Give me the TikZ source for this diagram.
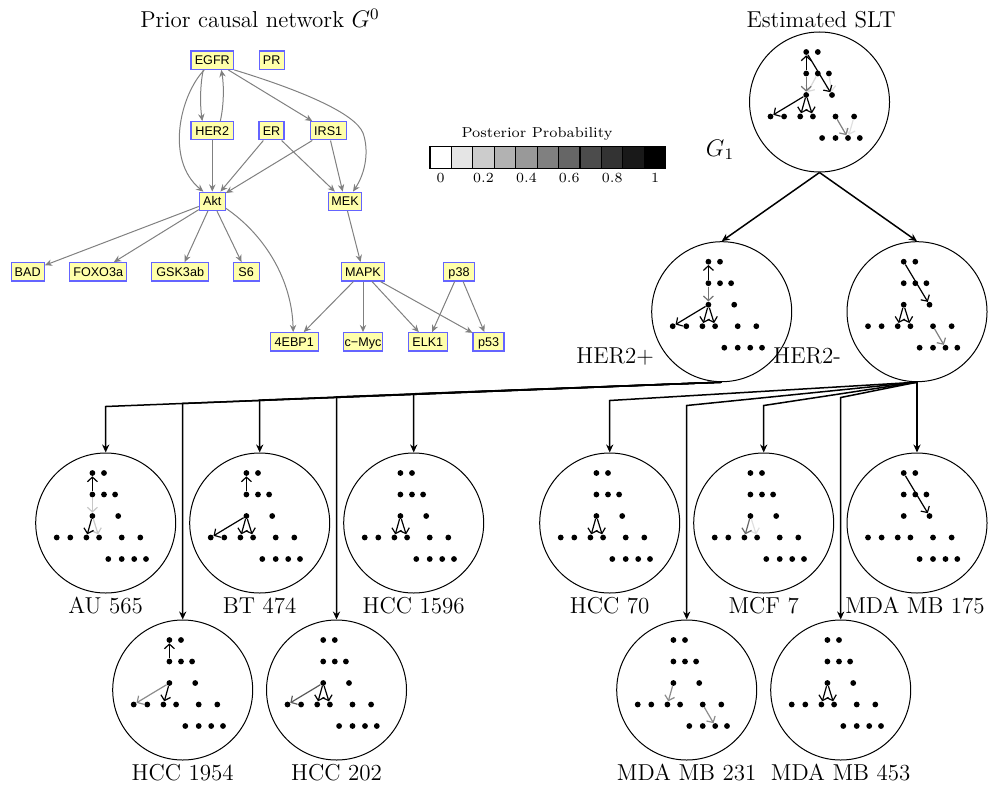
\documentclass[tikz,border=0pt]{standalone}
\usepackage{fontspec}
\newfontfamily\netfont{Liberation Sans}
\usetikzlibrary{arrows.meta,calc}

\definecolor{netfill}{RGB}{255,255,170}
\definecolor{netline}{RGB}{100,100,255}
\definecolor{netedge}{RGB}{128,128,128}

% positions of the 17 proteins inside an SLT circle, relative to its centre
\def\dotlayout{EGFR/-13.3/-50, PR/-1.7/-50, HER2/-13.3/-28.5, ER/-1.7/-28.5,
  IRS1/9.4/-28.5, Akt/-13.3/-7, MEK/12.5/-7, BAD/-49/14.5, FOXO3a/-35.4/14.5,
  GSK3ab/-19.3/14.5, S6/-6.6/14.5, MAPK/16/14.5, p38/34.6/14.5, 4EBP1/2.6/36,
  cMyc/16/36, ELK1/28.5/36, p53/40.3/36}

% one SLT circle with its dots
\newcommand\sltring[3]{%
  \node[sltcircle] (#1) at (#2,#3) {};
  \foreach \n/\dx/\dy in \dotlayout {\node[sdot] (#1-\n) at ($(#1.center)+(\dx,\dy)$) {};}%
}
% edge inside a circle, shaded by its posterior probability
\newcommand\sarr[4]{\draw[sarrow,draw=black!#4] (#1-#2) -- (#1-#3);}
% protein box of the prior network
\newcommand\gn[5]{\node[gbox,minimum width=#4pt] (#1) at (#2,#3) {#5};}

\begin{document}
\begin{tikzpicture}[x=0.5pt,y=-0.5pt,
  font=\fontsize{11.5}{13}\selectfont,
  gbox/.style={draw=netline, fill=netfill, line width=0.55pt, minimum height=9.15pt,
    inner xsep=0.5pt, inner ysep=0pt, text height=4.5pt, text depth=0pt,
    font=\netfont\fontsize{6.3}{7}\selectfont},
  gedge/.style={draw=netedge, line width=0.5pt, -{Stealth[length=3.6pt,width=3.2pt]}},
  sltcircle/.style={circle, draw, line width=0.5pt, minimum size=70pt, inner sep=0pt},
  sdot/.style={circle, fill=black, inner sep=0pt, minimum size=2.9pt},
  sarrow/.style={line width=0.6pt, -{Straight Barb[length=2.3pt,width=5pt]}},
  tree/.style={line width=0.75pt, -{Stealth[length=4pt,width=3.6pt]}},
  lab/.style={anchor=base},
  legtext/.style={anchor=base, font=\fontsize{7.2}{8}\selectfont}]
\useasboundingbox (0,0) rectangle (988,786);

% ---------------- prior causal network ----------------
\node[lab] (tprior) at (260,28) {Prior causal network $G^0$};
\gn{EGFR}{212.3}{60.2}{21.35}{EGFR}
\gn{PR}{271.7}{60.2}{12.65}{PR}
\gn{HER2}{212.3}{130.8}{21.35}{HER2}
\gn{ER}{271.5}{130.8}{12.5}{ER}
\gn{IRS1}{328.2}{130.8}{18.15}{IRS1}
\gn{Akt}{212.3}{201.3}{13}{Akt}
\gn{MEK}{345}{201.3}{16.65}{MEK}
\gn{BAD}{27.7}{271.8}{16.65}{BAD}
\gn{FOXO3a}{98.2}{271.8}{28.5}{FOXO3a}
\gn{GSK3ab}{180.2}{271.8}{28.5}{GSK3ab}
\gn{S6}{246.2}{271.8}{12.85}{S6}
\gn{MAPK}{363}{271.8}{21.35}{MAPK}
\gn{p38}{459}{271.8}{15.65}{p38}
\gn{4EBP1}{294.2}{341.8}{24.15}{4EBP1}
\gn{cMyc}{363}{341.8}{19.65}{c−Myc}
\gn{ELK1}{427.8}{341.8}{19.5}{ELK1}
\gn{p53}{488.5}{341.8}{15.5}{p53}

\draw[gedge] ($(EGFR.south)+(-9,0)$) .. controls (200,85) and (200,105) .. ($(HER2.north)+(-10,0)$);
\draw[gedge] ($(HER2.north)+(8,0)$) .. controls (224,105) and (224,85) .. ($(EGFR.south)+(9,0)$);
\draw[gedge] ($(EGFR.south)+(-8,0)$) .. controls (180,95) and (165,160) .. ($(Akt.north)+(-9,0)$);
\draw[gedge] (EGFR) -- (IRS1);
\draw[gedge] (EGFR.south east) .. controls (300,90) and (355,113) .. (363,133)
  .. controls (369,150) and (366,172) .. ($(MEK.north)+(8,0)$);
\draw[gedge] (HER2) -- (Akt);
\draw[gedge] (ER) -- (Akt);
\draw[gedge] (ER) -- (MEK);
\draw[gedge] (IRS1) -- (Akt);
\draw[gedge] (IRS1) -- (MEK);
\draw[gedge] (Akt) -- (BAD);
\draw[gedge] (Akt) -- (FOXO3a);
\draw[gedge] (Akt) -- (GSK3ab);
\draw[gedge] (Akt) -- (S6);
\draw[gedge] ($(Akt.east)+(0,7)$) .. controls (265,235) and (292,280) .. ($(4EBP1.north)+(-1,0)$);
\draw[gedge] (MEK) -- (MAPK);
\draw[gedge] (MAPK) -- (4EBP1);
\draw[gedge] (MAPK) -- (cMyc);
\draw[gedge] (MAPK) -- (ELK1);
\draw[gedge] (MAPK) -- (p53);
\draw[gedge] (p38) -- (ELK1);
\draw[gedge] (p38) -- (p53);

% ---------------- posterior probability scale ----------------
\node[legtext] (ltitle) at (537,138) {Posterior Probability};
\foreach \i in {0,...,10} {
  \pgfmathsetmacro\shade{10*\i}
  \draw[line width=0.6pt, fill=black!\shade] (430+21.43*\i,146.7) rectangle ++(21.43,21.6);
}
\foreach \i/\t in {0/0, 2/0.2, 4/0.4, 6/0.6, 8/0.8, 10/1}
  \node[legtext] (tick\i) at (440.7+21.43*\i,183) {$\t$};

% ---------------- estimated SLT ----------------
\node[lab] (tslt) at (821,28) {Estimated SLT};
\node (gone) at (720,150) {$G_1$};

\sltring{root}{819.5}{102}
\sltring{hp}{721.7}{311.7}
\sltring{hm}{917}{311.7}
\sltring{au}{105.7}{523}
\sltring{bt}{259.7}{523}
\sltring{hcca}{413.7}{523}
\sltring{hccb}{182.7}{690}
\sltring{hccc}{336.5}{690}
\sltring{hccd}{609.7}{523}
\sltring{mcf}{763.7}{523}
\sltring{mdaa}{917}{523}
\sltring{mdab}{686.7}{690}
\sltring{mdac}{840.7}{690}

\node[lab, anchor=base east] (lhp) at (661,363) {HER2+};
\node[lab, anchor=base east] (lhm) at (848,363) {HER2-};
\node[lab] (lau) at (105.7,613) {AU 565};
\node[lab] (lbt) at (259.7,613) {BT 474};
\node[lab] (lhcca) at (413.7,613) {HCC 1596};
\node[lab] (lhccb) at (182.7,780) {HCC 1954};
\node[lab] (lhccc) at (336.5,780) {HCC 202};
\node[lab] (lhccd) at (609.7,613) {HCC 70};
\node[lab] (lmcf) at (763.7,613) {MCF 7};
\node[lab] (lmdaa) at (915,613) {MDA MB 175};
\node[lab] (lmdab) at (686.7,780) {MDA MB 231};
\node[lab] (lmdac) at (840.7,780) {MDA MB 453};

% tree connectors
\draw[tree] (root.south) -- (hp.north);
\draw[tree] (root.south) -- (hm.north);
\foreach \c/\b in {au/46, hccb/216, bt/52.4, hccc/222.6, hcca/58.7}
  \draw[tree] (hp.south) -- ($(\c.north)+(0,-\b)$) -- (\c.north);
\foreach \c/\b in {hccd/52, mdab/214, mcf/47, mdac/222}
  \draw[tree] (hm.south) -- ($(\c.north)+(0,-\b)$) -- (\c.north);
\draw[tree] (hm.south) -- (mdaa.north);

% edges inside the circles
\sarr{root}{ER}{Akt}{15}
\sarr{root}{IRS1}{MEK}{12}
\sarr{root}{p38}{ELK1}{12}
\sarr{root}{MAPK}{ELK1}{50}
\sarr{root}{HER2}{Akt}{55}
\sarr{root}{HER2}{EGFR}{100}
\sarr{root}{EGFR}{MEK}{100}
\sarr{root}{Akt}{BAD}{100}
\sarr{root}{Akt}{GSK3ab}{100}
\sarr{root}{Akt}{S6}{100}

\sarr{hp}{HER2}{Akt}{55}
\sarr{hp}{HER2}{EGFR}{100}
\sarr{hp}{Akt}{BAD}{100}
\sarr{hp}{Akt}{GSK3ab}{100}
\sarr{hp}{Akt}{S6}{100}

\sarr{hm}{EGFR}{MEK}{100}
\sarr{hm}{Akt}{GSK3ab}{100}
\sarr{hm}{Akt}{S6}{100}
\sarr{hm}{MAPK}{ELK1}{50}

\sarr{au}{HER2}{EGFR}{100}
\sarr{au}{HER2}{Akt}{22}
\sarr{au}{Akt}{S6}{22}
\sarr{au}{Akt}{GSK3ab}{100}

\sarr{bt}{HER2}{EGFR}{100}
\sarr{bt}{Akt}{BAD}{100}
\sarr{bt}{Akt}{GSK3ab}{100}
\sarr{bt}{Akt}{S6}{100}

\sarr{hcca}{Akt}{GSK3ab}{100}
\sarr{hcca}{Akt}{S6}{100}

\sarr{hccb}{HER2}{EGFR}{100}
\sarr{hccb}{Akt}{BAD}{45}
\sarr{hccb}{Akt}{GSK3ab}{100}

\sarr{hccc}{Akt}{BAD}{65}
\sarr{hccc}{Akt}{GSK3ab}{100}
\sarr{hccc}{Akt}{S6}{100}

\sarr{hccd}{Akt}{GSK3ab}{100}
\sarr{hccd}{Akt}{S6}{100}

\sarr{mcf}{Akt}{S6}{12}
\sarr{mcf}{Akt}{GSK3ab}{60}

\sarr{mdaa}{EGFR}{MEK}{100}

\sarr{mdab}{Akt}{GSK3ab}{45}
\sarr{mdab}{MAPK}{ELK1}{45}

\sarr{mdac}{Akt}{GSK3ab}{100}
\sarr{mdac}{Akt}{S6}{100}
\end{tikzpicture}
\end{document}
